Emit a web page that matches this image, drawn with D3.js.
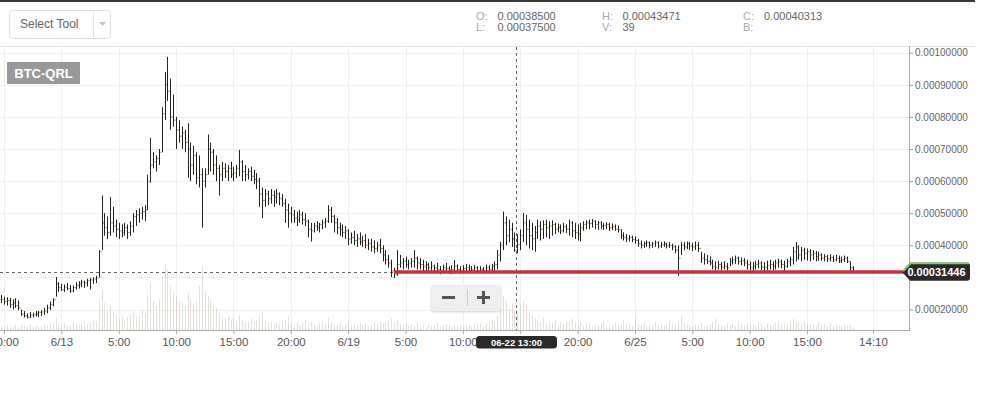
<!DOCTYPE html>
<html><head><meta charset="utf-8">
<script src="https://cdn.jsdelivr.net/npm/d3@7"></script>
<style>
html,body{margin:0;padding:0;background:#fff;}
svg{display:block;font-family:"Liberation Sans",Arial,sans-serif;}
</style></head><body>
<svg id="c" width="994" height="400"></svg>
<script>
// ---------- data (prices in 1e-6 BTC) ----------
const symbol = "BTC-QRL";
const hi = [245,240,238,236,232,235,228,200,195,188,
192,190,195,196,198,205,215,225,235,301,
285,280,278,282,276,275,285,288,292,290,
296,298,300,305,385,555,500,490,550,520,
480,470,465,470,465,475,500,510,515,520,
525,620,735,690,680,700,830,940,987,920,
870,800,790,770,760,780,720,710,690,680,
640,640,745,720,700,680,650,660,655,650,
660,645,650,697,665,650,640,645,635,625,
610,580,575,570,575,570,575,565,560,545,
530,520,510,505,510,505,500,480,470,470,
475,470,480,485,525,520,495,485,470,465,
460,450,440,445,435,440,430,435,420,420,
415,410,420,400,385,370,355,330,385,370,
360,365,355,360,385,365,360,355,350,345,
350,340,345,335,340,345,335,338,354,340,
335,338,342,340,335,338,335,335,332,340,
338,342,350,385,410,505,490,480,470,440,
435,450,500,495,480,470,460,480,475,478,
480,475,478,470,468,465,470,465,480,475,
470,465,470,475,478,480,482,478,476,475,
470,472,470,468,465,462,450,440,435,432,
430,428,420,415,412,415,412,410,415,412,
410,412,408,410,405,400,400,410,410,412,
410,408,412,410,380,375,370,365,355,350,
352,348,350,345,360,365,368,365,362,360,
355,350,348,352,355,350,348,352,355,350,
355,358,355,352,358,365,395,410,400,395,
392,390,388,385,382,380,375,372,370,372,
368,370,368,365,368,365,350,335];
const lo = [220,215,212,205,200,205,198,180,175,172,
173,175,178,176,180,183,188,198,210,240,
255,258,255,260,252,254,262,265,270,268,
272,262,280,282,300,385,430,420,430,440,
425,420,425,430,420,430,440,460,470,480,
475,510,595,640,630,650,690,790,850,760,
770,700,720,700,690,610,600,620,590,580,
455,580,620,630,620,600,555,600,610,600,
610,600,610,615,600,600,605,600,590,575,
520,485,520,525,530,520,530,525,520,470,
455,470,470,460,470,465,460,425,412,440,
445,440,450,455,470,470,440,435,430,425,
420,400,405,400,395,400,395,390,385,380,
375,380,375,350,340,330,301,298,305,330,
325,330,325,330,330,325,325,320,320,318,
320,315,318,310,315,318,312,310,318,315,
312,315,318,312,314,315,312,315,312,315,
316,318,320,325,350,385,400,410,395,380,
375,385,410,400,390,385,380,420,415,420,
425,420,430,435,440,435,440,438,430,425,
420,415,412,445,450,450,455,450,448,450,
448,450,445,448,445,440,420,415,410,412,
410,405,395,390,392,395,390,392,395,390,
392,395,390,392,385,375,305,370,385,388,
385,382,385,380,345,340,342,338,325,322,
325,322,325,322,335,340,342,340,338,335,
325,322,320,325,328,322,320,322,325,322,
325,330,328,322,330,335,340,350,355,350,
355,352,350,355,350,352,352,350,348,350,
348,350,345,345,348,345,320,312];
const cl = [232,225,228,215,220,212,205,185,180,176,
182,184,186,190,192,195,205,215,230,280,
268,262,270,265,258,268,275,280,285,282,
290,292,295,298,380,470,455,440,470,460,
450,445,440,455,440,460,490,495,500,505,
510,600,650,660,670,690,810,900,880,800,
790,760,740,750,720,700,650,680,610,620,
600,620,700,690,650,640,620,640,630,640,
620,625,640,660,630,620,630,615,605,600,
560,540,560,545,555,550,560,545,530,510,
500,495,485,480,495,480,475,450,445,460,
455,465,470,475,510,490,470,455,450,440,
445,420,425,415,420,410,415,400,405,395,
390,400,390,370,355,345,320,310,340,345,
350,340,345,350,360,345,340,335,340,330,
335,330,325,320,330,328,322,325,335,325,
320,328,330,322,325,330,320,325,320,330,
325,335,340,370,400,470,430,450,420,385,
403,430,470,450,430,420,440,460,450,465,
455,460,465,450,455,445,458,450,470,445,
440,435,455,465,470,468,475,465,470,460,
462,465,455,458,450,448,430,425,420,425,
418,415,405,400,405,408,400,405,408,398,
402,405,398,400,395,385,360,400,395,405,
398,395,400,390,360,355,350,345,335,330,
340,332,335,330,350,355,360,350,352,345,
340,330,335,340,345,332,330,338,340,335,
345,348,340,335,350,355,380,395,370,385,
375,380,370,375,365,370,360,365,358,362,
355,360,352,355,360,350,330,314.46];
const vol = [4,3,5,3,4,6,3,5,4,3,6,4,5,3,4,6,5,7,8,
12,6,5,7,4,5,8,6,5,7,9,6,8,10,9,
30,42,28,20,25,18,15,12,14,10,13,16,18,14,15,20,17,
35,48,30,25,32,55,68,62,45,40,35,30,28,25,38,32,28,30,45,66,40,35,30,25,22,
18,15,12,14,10,12,9,15,10,8,9,12,8,10,15,18,10,8,9,7,8,6,9,11,14,
8,6,9,5,7,10,6,8,5,4,7,9,6,12,8,6,5,7,4,6,8,5,6,4,7,5,6,4,5,8,6,9,7,8,10,
12,8,10,6,5,7,4,6,5,8,4,5,3,6,4,5,7,3,4,6,5,3,4,5,6,3,4,5,4,6,5,7,4,6,8,10,9,
15,25,35,30,22,28,20,18,26,30,25,18,15,12,
10,8,12,6,9,7,10,5,8,6,9,7,12,8,
6,9,5,7,8,4,6,5,7,9,4,6,5,8,6,7,10,5,6,4,
12,6,5,7,4,6,5,8,4,6,5,7,9,6,5,10,14,8,6,5,
4,6,5,7,4,5,6,8,12,6,5,4,7,5,6,4,9,6,5,7,
4,6,5,8,6,4,7,5,6,8,9,7,6,5,10,12,8,7,6,9,
5,7,6,4,8,5,6,4,7,5,6,4,5,6,4,5,3];
const priceTicks = [0.0002,0.0003,0.0004,0.0005,0.0006,0.0007,0.0008,0.0009,0.0010];
const xTickIdx = [1,21,41,61,81,101,121,141,161,181,201,221,241,261,281,304];
const xTickLabels = ["20:00","6/13","5:00","10:00","15:00","20:00","6/19","5:00","10:00","15:00","20:00","6/25","5:00","10:00","15:00","14:10"];
const crossIdx = 180, crossLabel = "06-22 13:00";
const lastPrice = 0.00031446, lastLabel = "0.00031446";
const trendPrice = 0.0003165, trendFrom = 137, trendTo = 315;
const infoCols = [[["O:","0.00038500"],["L:","0.00037500"]],[["H:","0.00043471"],["V:","39"]],[["C:","0.00040313"],["B:",""]]];

// ---------- drawing ----------
const svg = d3.select("#c");
const N = hi.length;
const x = d3.scaleLinear().domain([0, 297]).range([1.13, 852.9]);
const y = d3.scaleLinear().domain([0.0002, 0.0010]).range([309.5, 52.7]);
const yv = d3.scaleLinear().domain([0, 70]).range([330, 262]);
const P = v => v * 1e-6;
const axisX = 909, topY = 46, bottomY = 330;

// header
svg.append("rect").attr("x",0).attr("y",0).attr("width",975).attr("height",2).attr("fill","#3a3a3a");
svg.append("line").attr("x1",0).attr("x2",975).attr("y1",topY+0.5).attr("y2",topY+0.5).attr("stroke","#e3e3e3");
const st = svg.append("g");
st.append("rect").attr("x",9.5).attr("y",10.5).attr("width",101).attr("height",28).attr("rx",3)
  .attr("fill","#fff").attr("stroke","#dcdcdc");
st.append("text").attr("x",20).attr("y",28).attr("font-size",12).attr("fill","#666").text("Select Tool");
st.append("line").attr("x1",93.5).attr("x2",93.5).attr("y1",12).attr("y2",37).attr("stroke","#ccc").attr("stroke-dasharray","1,1");
st.append("path").attr("d","M99,22 L106,22 L102.5,26 Z").attr("fill","#c4c4c4");

const infoX = [[476,497.5],[602,622.5],[743,764]];
infoCols.forEach((col,ci)=>col.forEach((row,ri)=>{
  const yy = 19.5 + ri*11;
  svg.append("text").attr("x",infoX[ci][0]).attr("y",yy).attr("font-size",11).attr("fill","#aaa").text(row[0]);
  svg.append("text").attr("x",infoX[ci][1]).attr("y",yy).attr("font-size",11).attr("fill","#666").text(row[1]);
}));

// grid
const grid = svg.append("g");
grid.selectAll(".hg").data(priceTicks).join("line")
  .attr("x1",0).attr("x2",axisX).attr("y1",d=>Math.round(y(d))+0.5).attr("y2",d=>Math.round(y(d))+0.5)
  .attr("stroke","#efefef");
grid.selectAll(".vg").data(xTickIdx).join("line")
  .attr("x1",d=>Math.round(x(d))+0.5).attr("x2",d=>Math.round(x(d))+0.5).attr("y1",topY+1).attr("y2",bottomY)
  .attr("stroke","#efefef");

// volume
svg.append("g").selectAll("rect").data(vol).join("rect")
  .attr("x",(d,i)=>Math.round(x(i))).attr("width",1)
  .attr("y",d=>yv(d)).attr("height",d=>bottomY-yv(d))
  .attr("fill",(d,i)=> (i>0 && cl[i]>=cl[i-1]) ? "rgba(160,175,140,0.35)" : "rgba(185,165,145,0.35)");

// crosshair horizontal dashed
svg.append("line").attr("x1",0).attr("x2",x(trendFrom)).attr("y1",Math.round(y(lastPrice))-0.5).attr("y2",Math.round(y(lastPrice))-0.5)
  .attr("stroke","#666").attr("stroke-dasharray","3,3");

// OHLC bars
const bars = svg.append("g");
for (let i=0;i<N;i++){
  const o = i>0 ? (i===crossIdx ? 385 : cl[i-1]) : cl[i];
  const xi = Math.round(x(i))+0.5;
  const up = cl[i] >= o;
  bars.append("line").attr("x1",xi).attr("x2",xi).attr("y1",y(P(hi[i]))).attr("y2",y(P(lo[i])))
    .attr("stroke","#222").attr("stroke-width",1);
  bars.append("line").attr("x1",xi-1.5).attr("x2",xi-0.5).attr("y1",y(P(o))).attr("y2",y(P(o)))
    .attr("stroke", up ? "#8fbf72" : "#d08a5a");
  bars.append("line").attr("x1",xi+0.5).attr("x2",xi+1.5).attr("y1",y(P(cl[i]))).attr("y2",y(P(cl[i])))
    .attr("stroke", up ? "#8fbf72" : "#d08a5a");
}

// trend line
svg.append("line").attr("x1",x(trendFrom)).attr("x2",x(trendTo)).attr("y1",y(trendPrice)).attr("y2",y(trendPrice))
  .attr("stroke","#c8303c").attr("stroke-width",3.5);

// crosshair vertical
const cx = Math.round(x(crossIdx));
svg.append("line").attr("x1",cx-0.5).attr("x2",cx-0.5).attr("y1",topY+1).attr("y2",bottomY)
  .attr("stroke","#666").attr("stroke-dasharray","3,3");

// right axis (label under the last-price marker is hidden, as in the reference)
const ya = svg.append("g").attr("transform",`translate(${axisX},0)`)
  .call(d3.axisRight(y).tickValues(priceTicks)
    .tickFormat(d => Math.abs(y(d) - y(lastPrice)) < 10 ? "" : d3.format(".8f")(d))
    .tickSize(4).tickPadding(2));
ya.select(".domain").remove();
ya.selectAll(".tick line").attr("stroke","#999");
ya.selectAll(".tick text").attr("font-size",10).attr("fill","#666").attr("font-family","Liberation Sans, Arial, sans-serif");
svg.append("line").attr("x1",axisX+0.5).attr("x2",axisX+0.5).attr("y1",topY).attr("y2",bottomY+0.5).attr("stroke","#aaa");

// bottom axis (label under the crosshair marker is hidden)
const xa = svg.append("g").attr("transform",`translate(0,${bottomY})`)
  .call(d3.axisBottom(x).tickValues(xTickIdx)
    .tickFormat((d,i)=> Math.abs(x(d) - x(crossIdx)) < 45 ? "" : xTickLabels[i])
    .tickSize(4).tickPadding(4));
xa.select(".domain").remove();
xa.selectAll(".tick line").attr("stroke","#aaa");
xa.selectAll(".tick text").attr("font-size",11.5).attr("fill","#555").attr("font-family","Liberation Sans, Arial, sans-serif");
svg.append("line").attr("x1",0).attr("x2",axisX+1).attr("y1",bottomY+0.5).attr("y2",bottomY+0.5).attr("stroke","#aaa");

// crosshair label
svg.append("rect").attr("x",cx-41).attr("y",336).attr("width",81).attr("height",12.5).attr("rx",3.5).attr("fill","#2a2a2a");
svg.append("text").attr("x",cx-0.5).attr("y",345.8).attr("text-anchor","middle").attr("font-size",9.5)
  .attr("font-weight","bold").attr("fill","#fff").text(crossLabel);

// last price label
const ly = y(lastPrice) - 1;
svg.append("path").attr("d",`M902,${ly} L910,${ly-9} H967 Q970,${ly-9} 970,${ly-6} V${ly+6} Q970,${ly+9} 967,${ly+9} H910 Z`)
  .attr("fill","#2a2a2a");
svg.append("path").attr("d",`M903,${ly-0.5} L910.5,${ly-8.5} H969`).attr("fill","none").attr("stroke","#8dc26f").attr("stroke-width",2);
svg.append("text").attr("x",936.5).attr("y",ly+4).attr("text-anchor","middle").attr("font-size",11)
  .attr("font-weight","bold").attr("fill","#fff").text(lastLabel);

// symbol label
svg.append("rect").attr("x",7).attr("y",62).attr("width",73).attr("height",22).attr("fill","#999");
svg.append("text").attr("x",43.5).attr("y",77.5).attr("text-anchor","middle").attr("font-size",13)
  .attr("font-weight","bold").attr("fill","#fff").text(symbol);

// zoom buttons
const defs = svg.append("defs");
const f = defs.append("filter").attr("id","sh").attr("x","-20%").attr("y","-30%").attr("width","140%").attr("height","170%");
f.append("feDropShadow").attr("dx",0).attr("dy",1).attr("stdDeviation",1).attr("flood-color","#000").attr("flood-opacity",0.18);
svg.append("rect").attr("x",431).attr("y",285).attr("width",70).attr("height",26).attr("rx",3).attr("fill","#efefef").attr("filter","url(#sh)");
svg.append("rect").attr("x",442).attr("y",296).attr("width",13).attr("height",3).attr("fill","#555");
svg.append("rect").attr("x",477).attr("y",296).attr("width",13).attr("height",3).attr("fill","#555");
svg.append("rect").attr("x",482).attr("y",291).attr("width",3).attr("height",13).attr("fill","#555");
svg.append("line").attr("x1",467.5).attr("x2",467.5).attr("y1",289).attr("y2",306).attr("stroke","#ccc");
</script>
</body></html>
